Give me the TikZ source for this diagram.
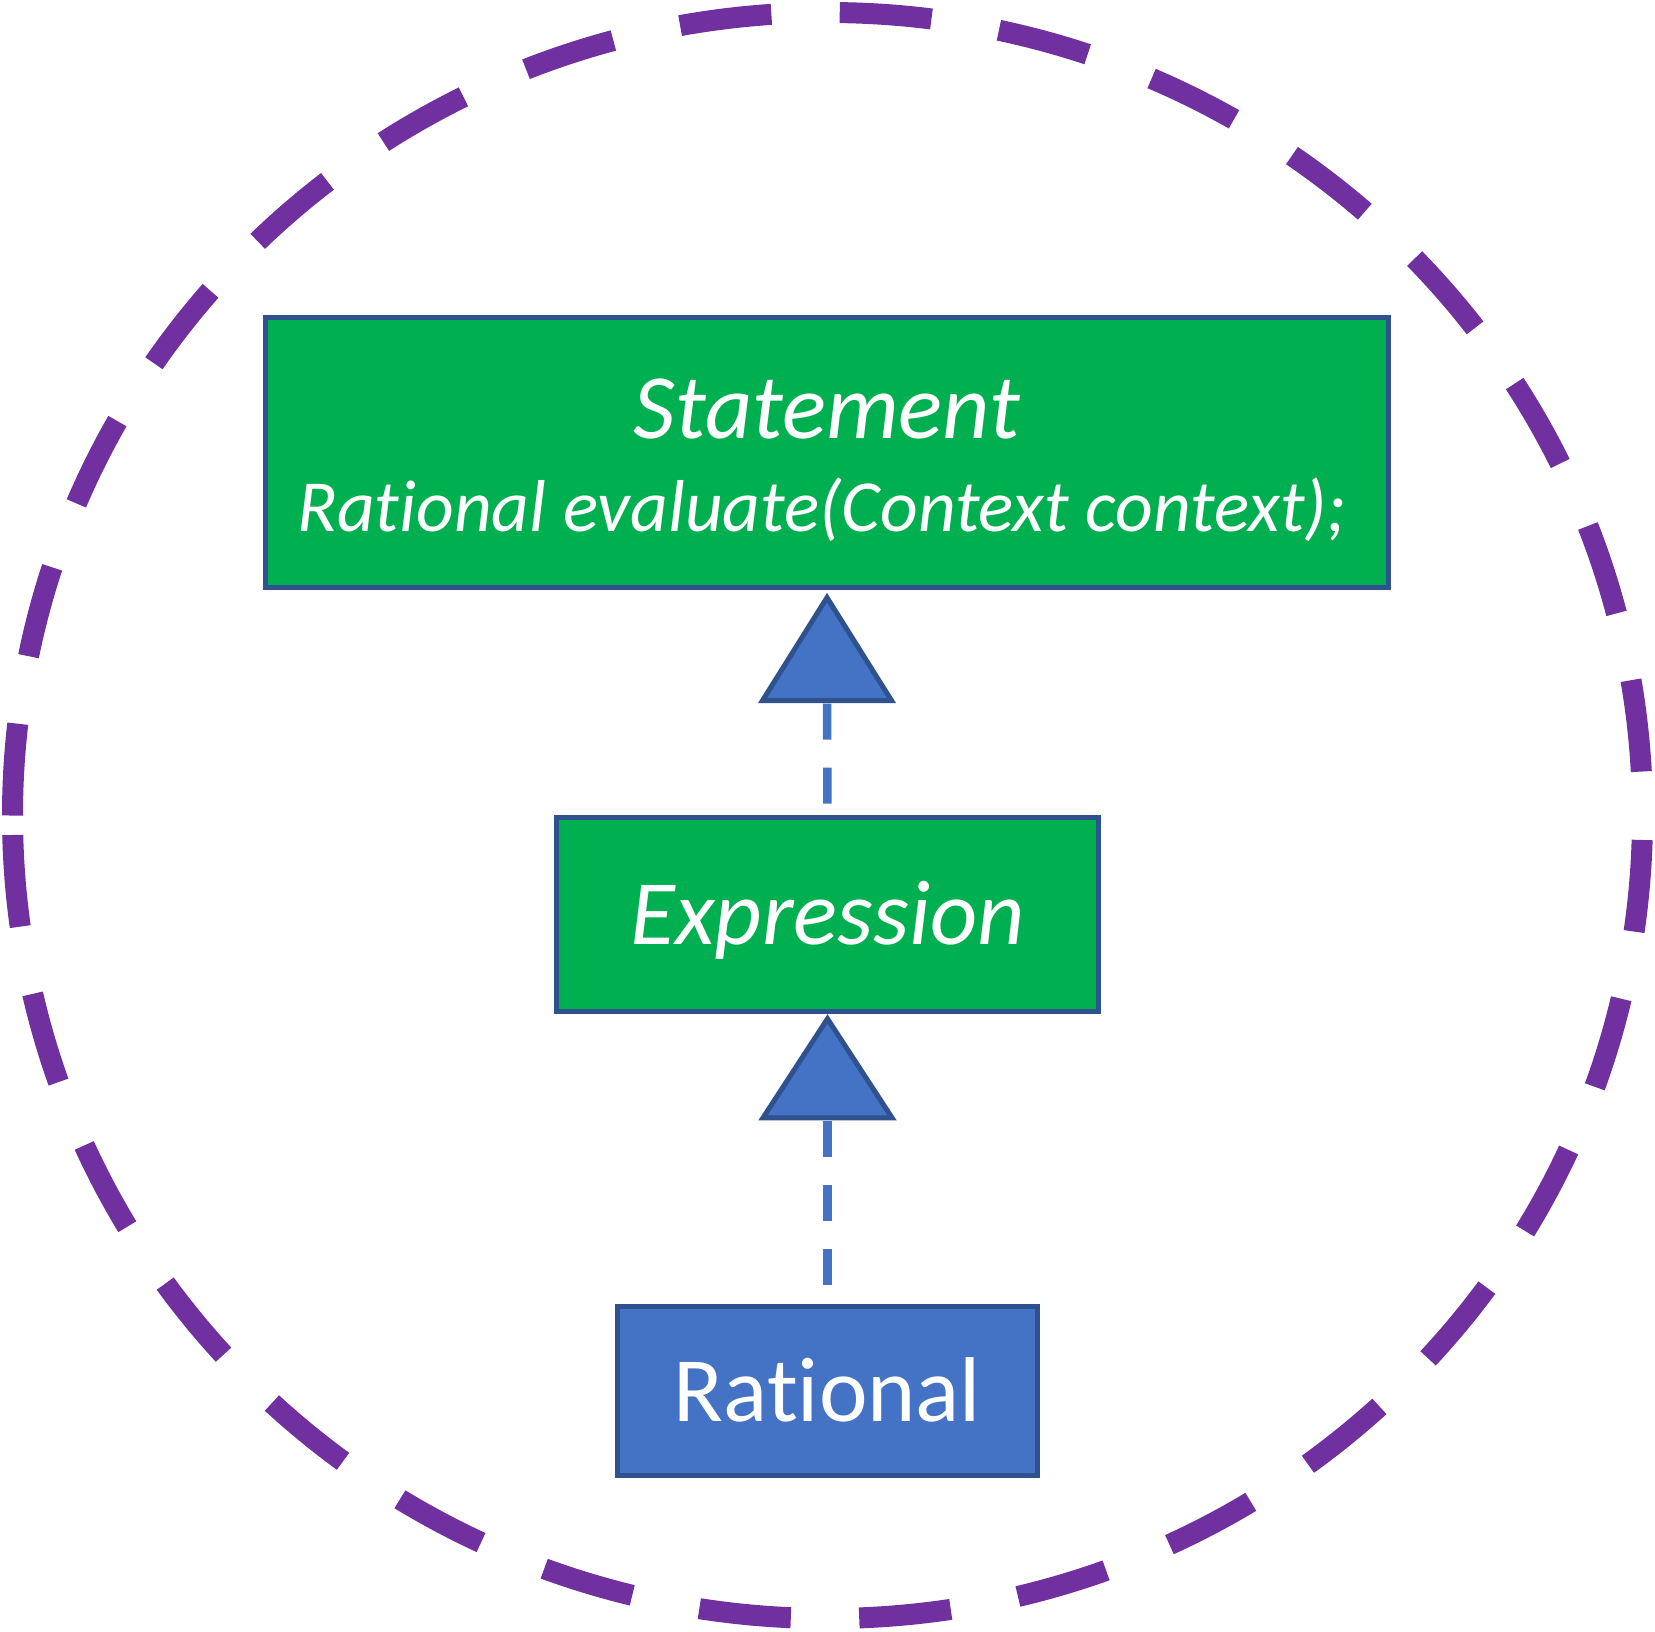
\documentclass[tikz,border=0pt]{standalone}
\usepackage{fontspec}
\setmainfont{Carlito}[RawFeature={-liga}]
\usetikzlibrary{calc}
\definecolor{ringpurple}{HTML}{7030A0}
\definecolor{boxgreen}{HTML}{00B050}
\definecolor{boxblue}{HTML}{4472C4}
\definecolor{edgeblue}{HTML}{2F528F}
\begin{document}
\begin{tikzpicture}[x=1pt,y=-1pt,
  classbox/.style={draw=edgeblue, line width=5pt, rectangle, inner sep=0pt},
  lbl/.style={text=white, inner sep=0pt, anchor=base},
  bigit/.style={font=\itshape\fontsize{92}{110}\selectfont},
  bigup/.style={font=\fontsize{92}{110}\selectfont},
  smallit/.style={font=\itshape\fontsize{73.5}{88}\selectfont},
  conn/.style={draw=boxblue, line width=8.5pt, dash pattern=on 36pt off 28pt, dash phase=61pt},
  realize/.style={draw=edgeblue, fill=boxblue, line width=5pt, line join=miter},
  ring/.style={draw=ringpurple, line width=21pt, dash pattern=on 92pt off 68.4pt}
]
\useasboundingbox (0,0) rectangle (1655,1631);

% dashed purple boundary
\coordinate (ringstart) at (12.5,815.5);
\draw[ring] (ringstart) arc[start angle=180, end angle=540, x radius=815, y radius=803];

% class boxes
\node[classbox, fill=boxgreen, minimum width=1123.4pt, minimum height=270.5pt] (stmt) at (827,452.3) {};
\node[classbox, fill=boxgreen, minimum width=541.8pt, minimum height=194.5pt] (expr) at (827.5,914.5) {};
\node[classbox, fill=boxblue, minimum width=419.3pt, minimum height=169.2pt] (rat) at (827.5,1390.6) {};

% labels
\node[lbl, bigit] (stmtname) at (827,438) {Statement};
\node[lbl, smallit] (stmtop) at (822,531) {Rational evaluate(Context context);};
\node[lbl, bigit] (exprname) at (827.5,944.7) {Expression};
\node[lbl, bigup] (ratname) at (827.5,1421.7) {Rational};

% realization arrows
\coordinate (t1tip) at ($(stmt.south)+(0,7.5)$);
\coordinate (t1base) at ($(t1tip)+(0,103)$);
\coordinate (t2tip) at ($(expr.south)+(0,4.5)$);
\coordinate (t2base) at ($(t2tip)+(0,99)$);

\draw[conn] (t1base) -- (expr.north);
\draw[conn] (t2base) -- (rat.north);

\draw[realize] (t1tip) -- ($(t1base)+(-64.5,0)$) -- ($(t1base)+(64.5,0)$) -- cycle;
\draw[realize] (t2tip) -- ($(t2base)+(-64.5,0)$) -- ($(t2base)+(64.5,0)$) -- cycle;
\end{tikzpicture}
\end{document}
